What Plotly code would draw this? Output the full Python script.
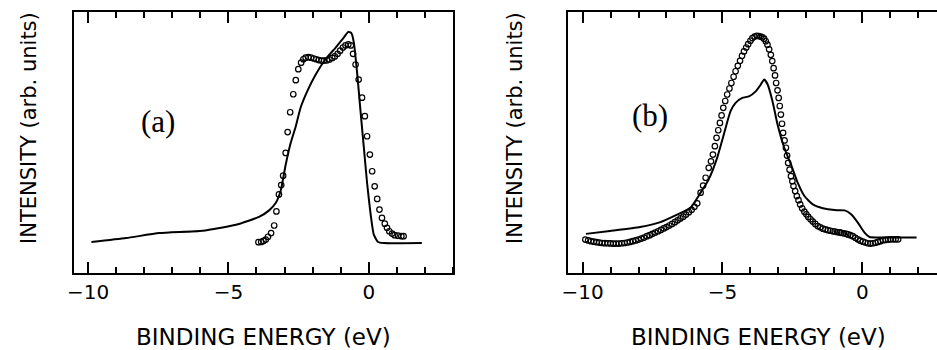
import plotly.graph_objects as go

# ---------------- data ----------------
# Panel (a)
a_line_x = [-9.88, -8.64, -7.46, -5.92, -4.73, -3.91, -3.55, -3.31, -3.14, -2.96, -2.78, -2.60,
            -2.43, -2.19, -1.89, -1.54, -1.18, -0.89, -0.73, -0.62, -0.53, -0.41, -0.30, -0.18,
            -0.06, 0.06, 0.18, 0.33, 0.53, 1.89]
a_line_y = [11.7, 13.2, 15.1, 16.0, 18.3, 21.3, 23.8, 26.7, 31.2, 41.3, 49.7, 56.0,
            63.1, 69.5, 75.9, 81.7, 86.2, 90.0, 92.2, 91.7, 88.0, 75.9, 62.5, 48.4,
            34.3, 22.8, 14.5, 11.7, 11.3, 11.3]

a_circ_x = [-3.93, -3.83, -3.75, -3.67, -3.59, -3.48, -3.37, -3.29, -3.20, -3.12, -3.05, -2.96,
            -2.89, -2.80, -2.69, -2.60, -2.51, -2.41, -2.33, -2.25, -2.15, -2.06, -1.96, -1.87,
            -1.78, -1.68, -1.59, -1.49, -1.40, -1.30, -1.21, -1.11, -1.02, -0.92, -0.83, -0.73,
            -0.64, -0.56, -0.47, -0.36, -0.24, -0.14, -0.06, 0.04, 0.12, 0.21, 0.30, 0.38,
            0.47, 0.57, 0.65, 0.73, 0.83, 0.92, 1.04, 1.16, 1.24]
a_circ_y = [11.6, 11.7, 12.1, 12.6, 13.7, 15.1, 18.0, 23.4, 29.9, 33.5, 37.1, 45.8,
            53.8, 61.4, 68.3, 73.7, 77.9, 80.4, 81.7, 82.3, 82.5, 82.3, 82.0, 81.7,
            81.4, 81.2, 81.2, 81.3, 81.6, 82.2, 82.8, 83.8, 85.0, 86.2, 87.0, 87.4,
            87.0, 83.8, 79.7, 73.9, 67.0, 59.9, 52.2, 45.2, 38.8, 33.0, 28.2, 24.1,
            20.9, 18.7, 17.1, 15.8, 14.9, 14.3, 14.1, 13.9, 13.9]

# Panel (b)
b_line_x = [-9.88, -9.02, -7.94, -7.22, -6.62, -6.14, -5.78, -5.49, -5.19, -4.95, -4.71, -4.53,
            -4.29, -4.05, -3.81, -3.63, -3.51, -3.39, -3.21, -3.03, -2.79, -2.55, -2.31, -2.07,
            -1.77, -1.41, -0.99, -0.63, -0.40, -0.16, 0.08, 0.26, 0.56, 1.94]
b_line_y = [14.8, 15.9, 17.4, 19.3, 22.2, 24.8, 30.6, 35.7, 43.9, 52.9, 61.8, 65.0,
            66.9, 67.5, 69.4, 72.0, 73.9, 72.2, 65.6, 56.7, 47.8, 41.4, 34.4, 29.3,
            26.1, 24.6, 23.9, 23.8, 22.3, 19.1, 15.3, 13.6, 13.4, 13.4]

b_circ_x = [-9.9, -9.8, -9.7, -9.6, -9.5, -9.4, -9.3, -9.2, -9.1, -9.0, -8.9, -8.8, -8.7, -8.6,
            -8.5, -8.4, -8.3, -8.2, -8.1, -8.0, -7.9, -7.8, -7.7, -7.6, -7.5, -7.4, -7.3, -7.2,
            -7.1, -7.0, -6.9, -6.8, -6.7, -6.6, -6.5, -6.4, -6.3, -6.2, -6.1, -6.0, -5.9,
            -5.78, -5.69, -5.60, -5.49, -5.41, -5.34, -5.27, -5.21, -5.15, -5.09, -5.03, -4.97,
            -4.90, -4.83, -4.75, -4.68, -4.60, -4.53, -4.45, -4.37, -4.30, -4.23, -4.15, -4.08,
            -4.00, -3.93, -3.85, -3.77, -3.70, -3.63, -3.57, -3.51, -3.45, -3.39, -3.33, -3.27,
            -3.22, -3.17, -3.12, -3.08, -3.03, -2.99, -2.95, -2.91, -2.87, -2.83, -2.78, -2.73,
            -2.69, -2.65, -2.60, -2.55, -2.50, -2.46, -2.40, -2.34, -2.28, -2.22, -2.15, -2.07,
            -2.00, -1.93, -1.85, -1.77, -1.68, -1.59, -1.50, -1.41, -1.32, -1.23, -1.14, -1.05,
            -0.99, -0.90, -0.81, -0.75, -0.66, -0.57, -0.51, -0.43, -0.34, -0.25, -0.16, -0.07,
            0.02, 0.11, 0.20, 0.29, 0.38, 0.47, 0.56, 0.65, 0.74, 0.83, 0.92, 1.01, 1.10, 1.19, 1.28]
b_circ_y = [12.6, 12.3, 12.0, 11.8, 11.6, 11.45, 11.3, 11.25, 11.2, 11.15, 11.1, 11.1, 11.1, 11.2,
            11.3, 11.5, 11.7, 12.0, 12.3, 12.6, 13.0, 13.4, 13.9, 14.3, 14.8, 15.3, 15.8, 16.3,
            16.9, 17.4, 18.0, 18.6, 19.3, 20.0, 20.7, 21.4, 22.2, 23.1, 24.0, 25.2, 26.5,
            30.6, 33.3, 36.3, 40.1, 42.6, 45.2, 48.4, 51.6, 54.5, 57.3, 60.2, 63.1,
            65.7, 68.2, 70.5, 72.6, 75.0, 77.1, 79.2, 81.1, 83.0, 84.7, 86.2, 87.5,
            88.8, 89.8, 90.4, 90.7, 90.6, 90.4, 90.1, 89.6, 88.6, 87.3, 85.5, 83.4,
            81.0, 78.3, 75.5, 72.6, 69.8, 66.9, 63.8, 60.5, 57.0, 53.5, 50.6, 47.8,
            44.8, 42.0, 39.4, 36.9, 35.0, 33.1, 31.2, 29.3, 27.7, 26.1, 24.6, 23.3,
            22.3, 21.3, 20.4, 19.5, 18.6, 17.8, 17.3, 16.8, 16.5, 16.2, 16.0, 15.8,
            15.7, 15.5, 15.35, 15.2, 15.0, 14.8, 14.6, 14.3, 13.9, 13.3, 12.7, 12.2,
            11.8, 11.5, 11.2, 11.1, 11.2, 11.4, 11.7, 12.0, 12.4, 12.5, 12.6, 12.7, 12.7, 12.7, 12.7]

x_major_step = 5
x_minor_step = 1
panel_labels = ["(a)", "(b)"]
x_title = "BINDING ENERGY (eV)"
y_title = "INTENSITY (arb. units)"

# ---------------- figure ----------------
W, H = 937, 350
fig = go.Figure()

line_style = dict(color="black", width=2, shape="spline", smoothing=0.5)
marker_style = dict(symbol="circle-open", size=5.5, color="black", line=dict(width=1.2, color="black"))

fig.add_trace(go.Scatter(x=a_line_x, y=a_line_y, mode="lines", line=line_style,
                         xaxis="x", yaxis="y", showlegend=False))
fig.add_trace(go.Scatter(x=a_circ_x, y=a_circ_y, mode="markers", marker=marker_style,
                         xaxis="x3", yaxis="y", showlegend=False))
fig.add_trace(go.Scatter(x=b_line_x, y=b_line_y, mode="lines", line=line_style,
                         xaxis="x2", yaxis="y2", showlegend=False))
fig.add_trace(go.Scatter(x=b_circ_x, y=b_circ_y, mode="markers", marker=marker_style,
                         xaxis="x4", yaxis="y2", showlegend=False))

top_px, bot_px = 11.5, 272.5
ydom = [1 - bot_px / H, 1 - top_px / H]

def xaxis(domain, rng, anchor):
    # frame line + labels + inside ticks (mirrored)
    return dict(domain=domain, range=rng, anchor=anchor, showline=True, linewidth=2,
                linecolor="black", mirror="ticks", ticks="inside", ticklen=11, tickwidth=2,
                tickcolor="black", dtick=x_major_step,
                gridcolor="white", zerolinecolor="white",
                tickfont=dict(family="DejaVu Sans", size=20, color="black"),
                minor=dict(dtick=x_minor_step, ticks="inside", ticklen=6, tickwidth=1.5,
                           tickcolor="black"))

def inward_ticks(over, rng, pos, side):
    # free axis placed on a frame edge whose "outside" ticks point into the plot
    return dict(overlaying=over, range=rng, anchor="free", position=pos, side=side,
                showline=False, showticklabels=False, showgrid=False, zeroline=False,
                ticks="outside", ticklen=11, tickwidth=2, tickcolor="black", dtick=x_major_step,
                minor=dict(dtick=x_minor_step, ticks="outside", ticklen=6, tickwidth=1.5,
                           tickcolor="black"))

def yaxis(anchor):
    return dict(domain=ydom, range=[0, 100], anchor=anchor, showline=True, mirror=True,
                linecolor="black", linewidth=2, gridcolor="white", zerolinecolor="white",
                showticklabels=False)

a_range = [-10.5, 3.0]
b_range = [-10.52, 2.67]

fig.update_layout(
    width=W, height=H, margin=dict(l=0, r=0, t=0, b=0), template="none",
    xaxis=xaxis([74 / W, 453 / W], a_range, "y"),
    yaxis=yaxis("x"),
    xaxis2=xaxis([568 / W, 1.0], b_range, "y2"),
    yaxis2=yaxis("x2"),
    xaxis3=inward_ticks("x", a_range, ydom[0], "top"),
    xaxis4=inward_ticks("x2", b_range, ydom[0], "top"),
    xaxis5=inward_ticks("x", a_range, ydom[1], "bottom"),
    xaxis6=inward_ticks("x2", b_range, ydom[1], "bottom"),
)

xt_font = dict(family="DejaVu Sans", size=23, color="black")
ann_font = dict(family="DejaVu Sans", size=21, color="black")
annotations = [
    dict(text=x_title, x=263 / W, y=1 - 337 / H, xref="paper", yref="paper",
         showarrow=False, font=xt_font, xanchor="center", yanchor="middle"),
    dict(text=x_title, x=758 / W, y=1 - 337 / H, xref="paper", yref="paper",
         showarrow=False, font=xt_font, xanchor="center", yanchor="middle"),
    dict(text=y_title, x=29 / W, y=1 - 128 / H, xref="paper", yref="paper",
         showarrow=False, font=ann_font, textangle=-90, xanchor="center", yanchor="middle"),
    dict(text=y_title, x=515 / W, y=1 - 128 / H, xref="paper", yref="paper",
         showarrow=False, font=ann_font, textangle=-90, xanchor="center", yanchor="middle"),
    dict(text=panel_labels[0], x=-7.5, y=58, xref="x", yref="y", showarrow=False,
         font=dict(family="Liberation Serif", size=31, color="black")),
    dict(text=panel_labels[1], x=-7.6, y=60.3, xref="x2", yref="y2", showarrow=False,
         font=dict(family="Liberation Serif", size=31, color="black")),
]
fig.update_layout(annotations=annotations)

fig.write_html("out.html", config={"displayModeBar": False},
               post_script="document.body.style.margin='0';document.body.style.overflow='hidden';")
